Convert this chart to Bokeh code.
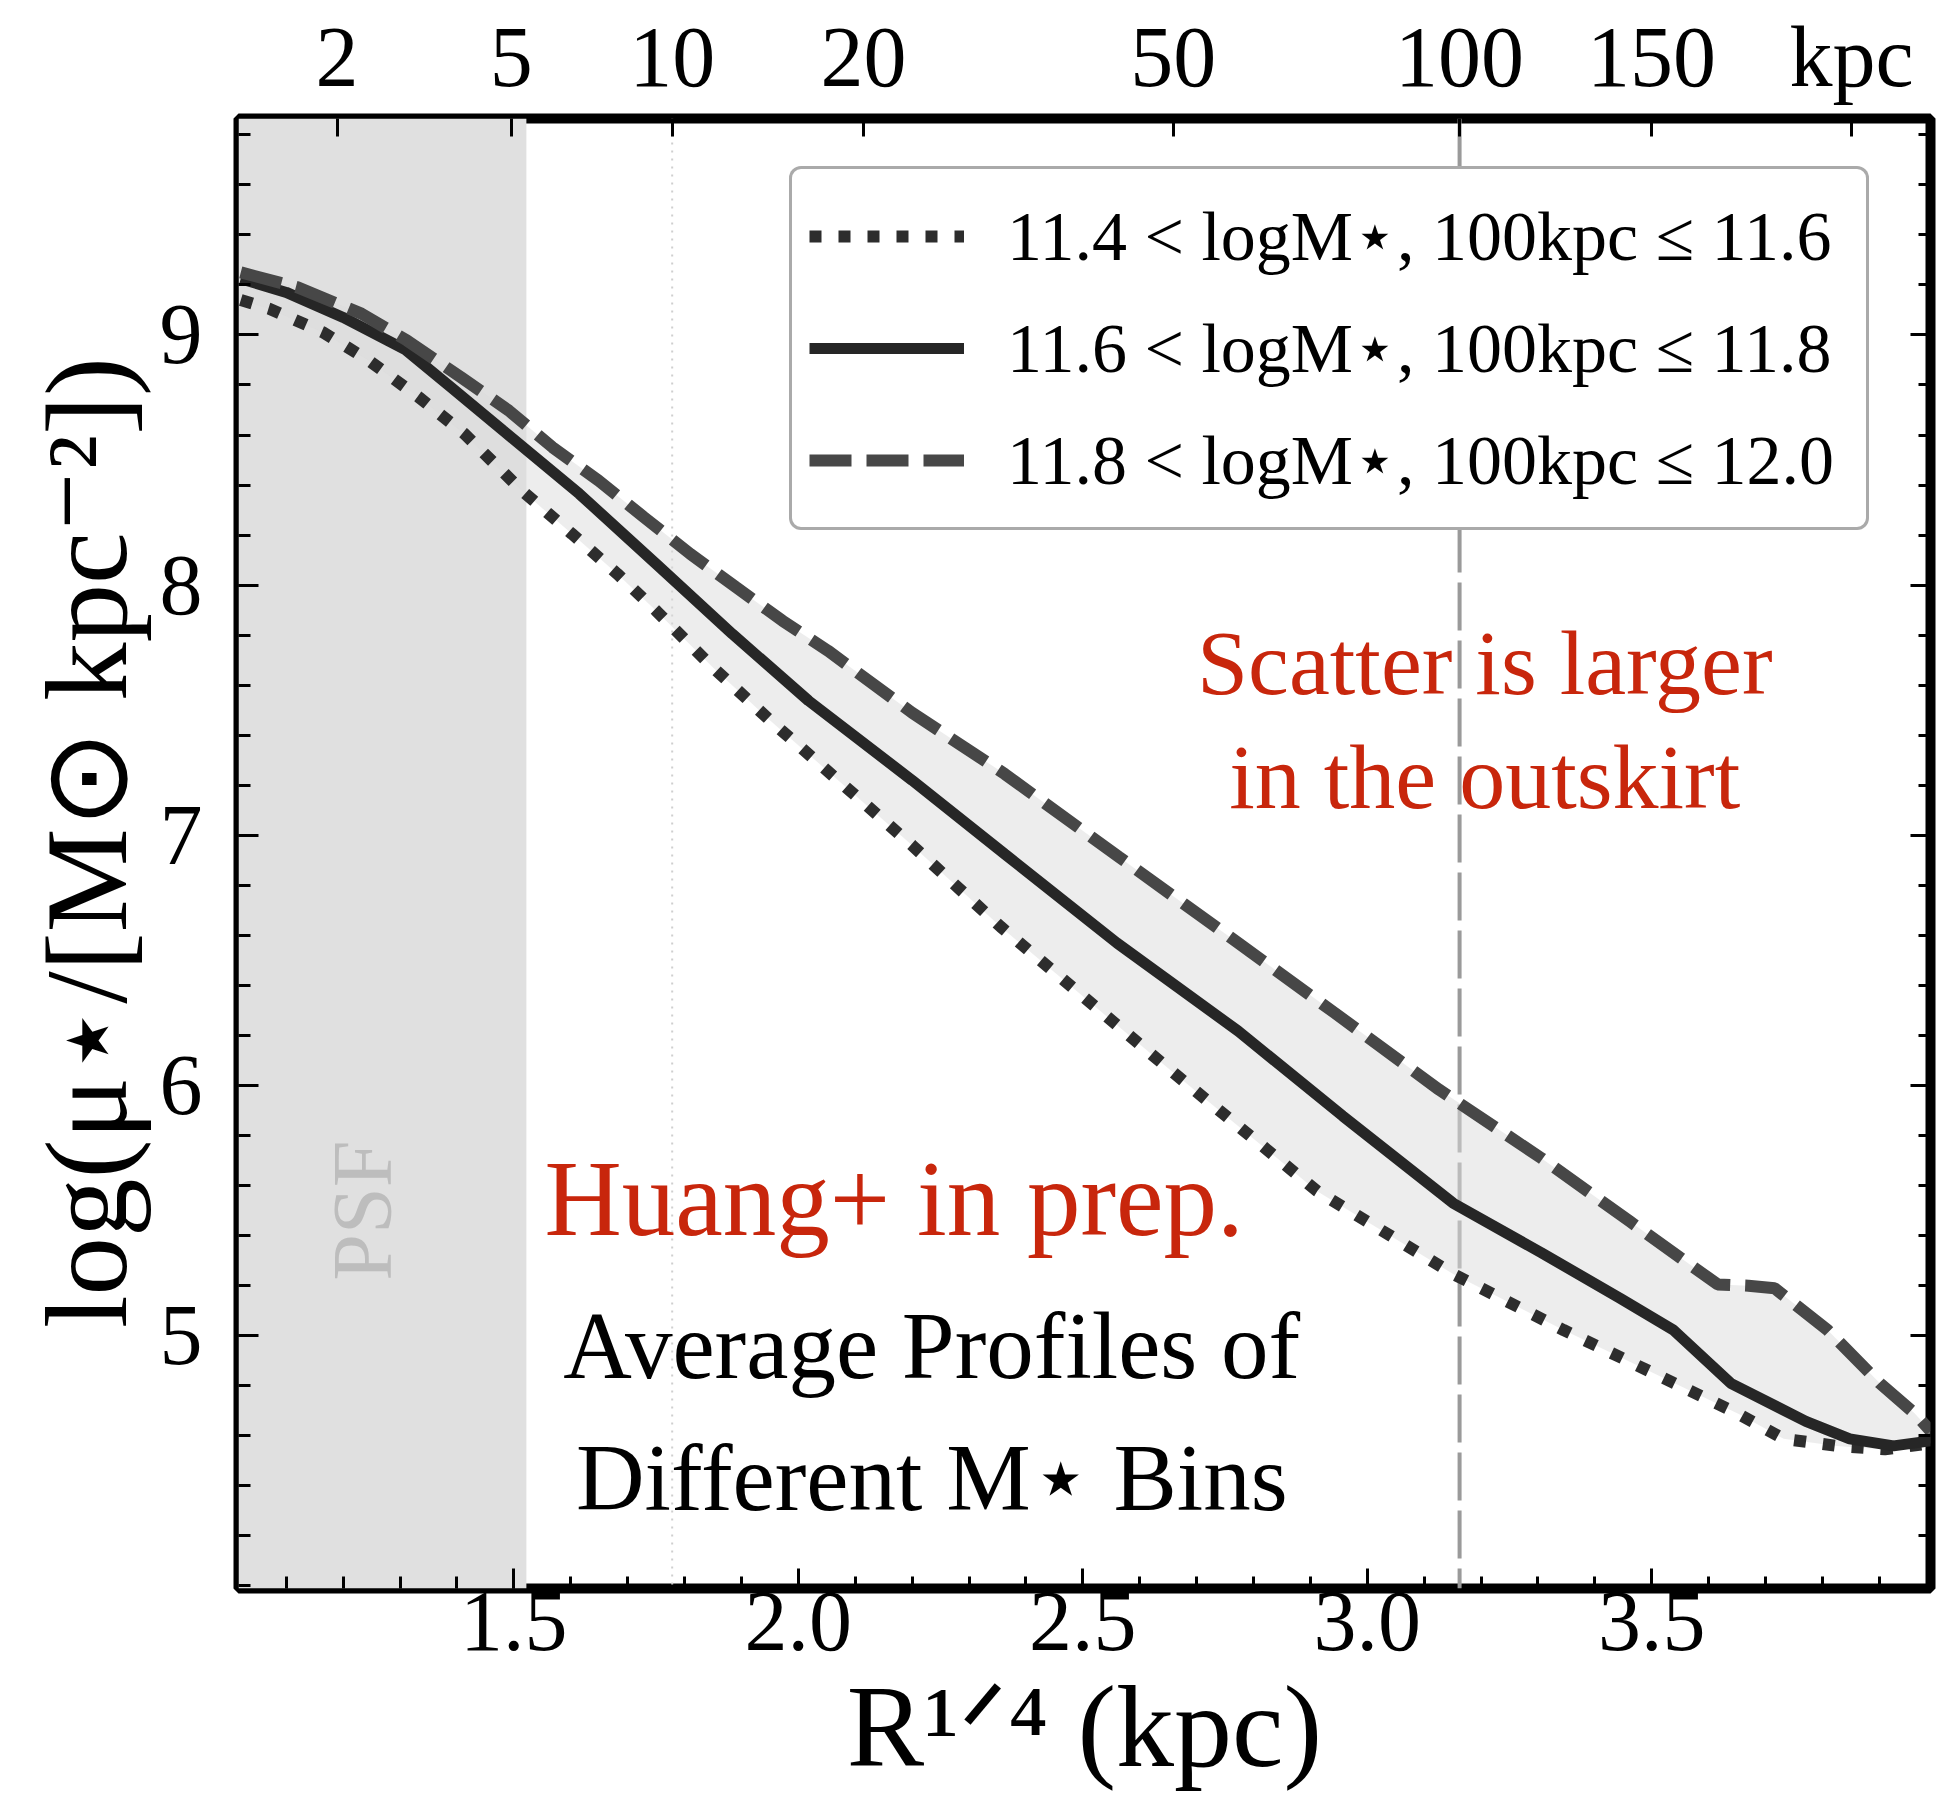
import numpy as np
from bokeh.plotting import figure
from bokeh.models import (Range1d, LinearAxis, FixedTicker, PrintfTickFormatter,
                          CustomJSTickFormatter, CustomLabelingPolicy, Legend,
                          LegendItem, Label, Span, BoxAnnotation)
from bokeh.embed import file_html
from bokeh.resources import INLINE

# ---------------- data ----------------
# x = R^(1/4) [kpc^(1/4)], y = log(mu_star / [Msun kpc^-2])
r14_low = [1.02, 1.07, 1.164, 1.245, 1.333, 1.413, 1.514, 1.602, 1.682, 1.750,
           1.850, 1.951, 2.200, 2.356, 2.649, 2.912, 3.151, 3.345, 3.499, 3.654,
           3.732, 3.825, 3.910, 3.99]
mu_low = [9.14, 9.105, 9.011, 8.898, 8.751, 8.605, 8.378, 8.205, 8.045, 7.898,
          7.671, 7.458, 6.960, 6.634, 6.071, 5.578, 5.247, 5.023, 4.855, 4.686,
          4.588, 4.560, 4.546, 4.57]

r14_mid = [1.02, 1.10, 1.20, 1.31, 1.39, 1.481, 1.615, 1.750, 1.884, 2.018,
           2.200, 2.363, 2.560, 2.773, 2.957, 3.151, 3.306, 3.445, 3.538, 3.639,
           3.771, 3.848, 3.925, 3.99]
mu_mid = [9.225, 9.17, 9.07, 8.94, 8.79, 8.618, 8.365, 8.085, 7.805, 7.538,
          7.220, 6.925, 6.570, 6.218, 5.878, 5.530, 5.332, 5.149, 5.023, 4.810,
          4.658, 4.588, 4.560, 4.58]

r14_high = [1.02, 1.12, 1.232, 1.312, 1.407, 1.491, 1.568, 1.649, 1.729, 1.810,
            1.891, 1.972, 2.052, 2.200, 2.363, 2.564, 2.773, 2.943, 3.126, 3.306,
            3.461, 3.616, 3.670, 3.716, 3.809, 3.901, 3.962, 3.99]
mu_high = [9.25, 9.19, 9.085, 8.978, 8.831, 8.698, 8.551, 8.418, 8.271, 8.125,
           7.991, 7.858, 7.738, 7.490, 7.245, 6.913, 6.570, 6.290, 5.984, 5.710,
           5.458, 5.205, 5.200, 5.190, 5.023, 4.810, 4.690, 4.62]

legend_labels = ["11.4 < logM\u22c6, 100kpc \u2264 11.6",
                 "11.6 < logM\u22c6, 100kpc \u2264 11.8",
                 "11.8 < logM\u22c6, 100kpc \u2264 12.0"]

x_ticks = [1.5, 2.0, 2.5, 3.0, 3.5]
y_ticks = [5, 6, 7, 8, 9]
top_tick_kpc = [2, 5, 10, 20, 50, 100, 150, 220]
top_tick_labels = ["2", "5", "10", "20", "50", "100", "150", "kpc"]
psf_edge_r14 = 1.522
ref_kpc_dotted = 10
ref_kpc_dashed = 100

SERIF = "Liberation Serif"
RED = "#c8260c"

# ---------------- figure ----------------
p = figure(width=1937, height=1815,
           x_range=Range1d(1.016, 3.99), y_range=Range1d(3.99, 9.865),
           output_backend="svg", toolbar_location=None,
           min_border_left=238, min_border_right=7,
           min_border_top=118, min_border_bottom=227)
p.grid.visible = False
p.background_fill_color = "white"
p.border_fill_color = "white"
p.outline_line_color = "black"
p.outline_line_width = 10


def style_axis(ax, size="86px", tin=20, minin=12):
    ax.axis_line_color = None
    ax.major_tick_in = tin
    ax.major_tick_out = 0
    ax.minor_tick_in = minin
    ax.minor_tick_out = 0
    ax.major_tick_line_width = 3
    ax.minor_tick_line_width = 3
    ax.major_tick_line_color = "black"
    ax.minor_tick_line_color = "black"
    ax.major_label_text_font = SERIF
    ax.major_label_text_font_size = size
    ax.major_label_text_color = "black"
    ax.axis_label_text_font = SERIF
    ax.axis_label_text_font_style = "normal"
    ax.axis_label_text_color = "black"


x_minor = [round(v, 1) for v in np.arange(1.1, 3.95, 0.1)]
y_minor = [round(v, 1) for v in np.arange(4.0, 9.85, 0.2)]

xb = p.xaxis[0]
xb.ticker = FixedTicker(ticks=x_ticks, minor_ticks=x_minor)
xb.formatter = PrintfTickFormatter(format="%.1f")
style_axis(xb)
xb.major_label_standoff = 4
xb.axis_label = "R\u00b9\u141f\u2074 (kpc)"
xb.axis_label_text_font_size = "116px"
xb.axis_label_standoff = 10

yl = p.yaxis[0]
yl.ticker = FixedTicker(ticks=y_ticks, minor_ticks=y_minor)
yl.formatter = PrintfTickFormatter(format="%d")
style_axis(yl)
yl.major_label_standoff = 36
yl.axis_label = "log(\u03bc\u22c6/[M\u2299 kpc\u207b\u00b2])"
yl.axis_label_text_font_size = "117px"
yl.axis_label_standoff = 6

top_pos = [k ** 0.25 for k in top_tick_kpc]
xt = LinearAxis(ticker=FixedTicker(ticks=top_pos, minor_ticks=[]),
                formatter=CustomJSTickFormatter(
                    args=dict(tp=top_pos, tl=top_tick_labels),
                    code="""
let best = 0;
for (let i = 0; i < tp.length; i++) {
  if (Math.abs(tp[i] - tick) < Math.abs(tp[best] - tick)) best = i;
}
return tl[best];
"""))
style_axis(xt, tin=18)
xt.major_label_standoff = 14
p.add_layout(xt, "above")

# right axis: ticks only, no labels drawn
yr = LinearAxis(ticker=FixedTicker(ticks=y_ticks, minor_ticks=y_minor),
                major_label_policy=CustomLabelingPolicy(code="return []"))
style_axis(yr)
yr.major_label_text_font_size = "0px"
yr.major_label_standoff = 0
p.add_layout(yr, "right")

# ---------------- background decorations ----------------
p.add_layout(BoxAnnotation(right=psf_edge_r14, fill_color="#e0e0e0",
                           fill_alpha=1.0, line_color=None, level="underlay"))
p.add_layout(Span(location=ref_kpc_dotted ** 0.25, dimension="height",
                  line_color="#cfcfcf", line_width=2, line_dash="2 6",
                  level="underlay"))
p.add_layout(Span(location=ref_kpc_dashed ** 0.25, dimension="height",
                  line_color="#9a9a9a", line_width=4, line_dash="48 10",
                  level="underlay"))

# faint scatter band between the extreme bins
p.patch(r14_high + r14_low[::-1], mu_high + mu_low[::-1],
        fill_color="#dcdcdc", fill_alpha=0.5, line_color=None)

# ---------------- profiles ----------------
r_low = p.line(r14_low, mu_low, line_color="#2d2d2d", line_width=12,
               line_dash="12 17", line_cap="butt")
r_mid = p.line(r14_mid, mu_mid, line_color="#262626", line_width=11)
r_high = p.line(r14_high, mu_high, line_color="#474747", line_width=12,
                line_dash="42 15", line_cap="butt")

legend = Legend(items=[LegendItem(label=legend_labels[0], renderers=[r_low]),
                       LegendItem(label=legend_labels[1], renderers=[r_mid]),
                       LegendItem(label=legend_labels[2], renderers=[r_high])],
                location=(551, 1058), orientation="vertical")
legend.margin = 0
legend.padding = 17
legend.spacing = 12
legend.glyph_width = 155
legend.glyph_height = 100
legend.label_standoff = 43
legend.label_width = 842
legend.label_text_font = SERIF
legend.label_text_font_size = "70px"
legend.label_text_color = "black"
legend.border_line_color = "#555555"
legend.border_line_width = 3
legend.background_fill_color = "white"
legend.background_fill_alpha = 1.0
try:
    legend.border_radius = 12
except Exception:
    pass
p.add_layout(legend)

# ---------------- text annotations ----------------
p.add_layout(Label(x=1.234, y=5.50, text="PSF", angle=np.pi / 2,
                   text_font=SERIF, text_font_size="84px",
                   text_color="#bdbdbd", text_align="center",
                   text_baseline="middle", level="underlay"))
p.add_layout(Label(x=1.554, y=5.546, text="Huang+ in prep.",
                   text_font=SERIF, text_font_size="107px", text_color=RED,
                   text_align="left", text_baseline="alphabetic"))
p.add_layout(Label(x=3.2065, y=7.687, text="Scatter is larger",
                   text_font=SERIF, text_font_size="92px", text_color=RED,
                   text_align="center", text_baseline="alphabetic"))
p.add_layout(Label(x=3.2065, y=7.233, text="in the outskirt",
                   text_font=SERIF, text_font_size="92px", text_color=RED,
                   text_align="center", text_baseline="alphabetic"))
p.add_layout(Label(x=2.2346, y=4.961, text="Average Profiles of",
                   text_font=SERIF, text_font_size="95px", text_color="black",
                   text_align="center", text_baseline="alphabetic"))
p.add_layout(Label(x=2.2346, y=4.432, text="Different M\u22c6 Bins",
                   text_font=SERIF, text_font_size="95px", text_color="black",
                   text_align="center", text_baseline="alphabetic"))

open("out.html", "w").write(file_html(p, INLINE))
